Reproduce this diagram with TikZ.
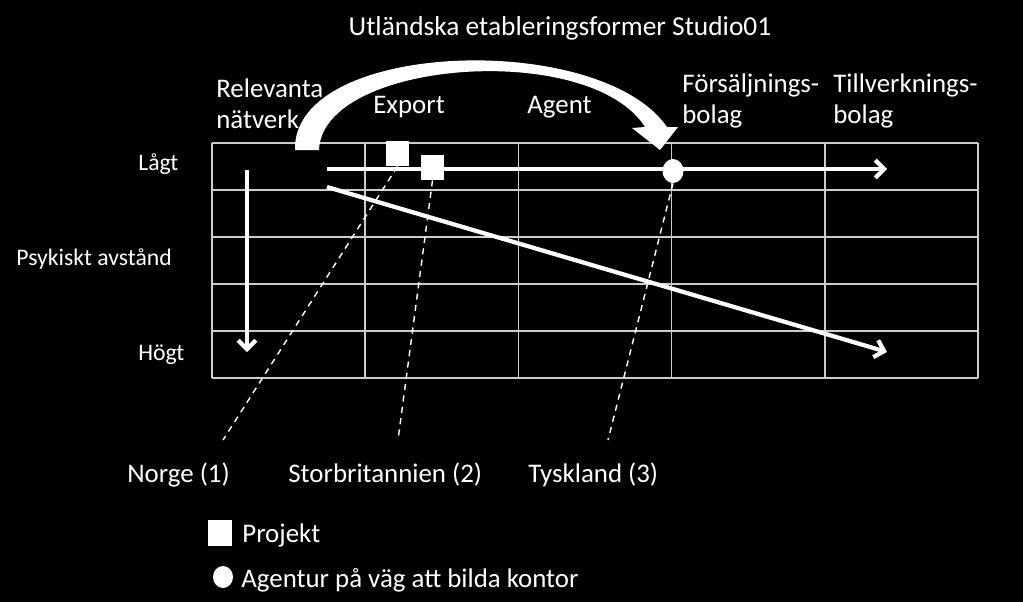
\documentclass[tikz,border=0pt]{standalone}
\usepackage{fontspec}
\setmainfont{Carlito}
\usetikzlibrary{arrows.meta,shapes.geometric}
\begin{document}
\begin{tikzpicture}[x=0.02cm,y=-0.02cm,
  lbl/.style={text=white,inner sep=0pt,font=\fontsize{15.3pt}{17.6pt}\selectfont},
  small/.style={text=white,inner sep=0pt,font=\fontsize{13.5pt}{16pt}\selectfont},
  track/.style={draw=white,line width=2.4pt,-{Straight Barb[length=5pt,width=10pt]}},
  guide/.style={draw=white,line width=0.8pt,dash pattern=on 3.5pt off 3pt},
  box/.style={fill=white,inner sep=0pt,minimum width=0.46cm,minimum height=0.5cm},
  dot/.style={ellipse,fill=white,inner sep=0pt,minimum width=0.42cm,minimum height=0.48cm}]
\fill[black] (0,0) rectangle (1023,602);
% grid
\foreach \x in {212,365.2,518.4,671.6,824.8,978}
  \draw[white!80!black,line width=1pt] (\x,143) -- (\x,378);
\foreach \y in {143,190,237,284,331,378}
  \draw[white!80!black,line width=1pt] (212,\y) -- (978,\y);
% headings
\node[lbl,anchor=base,font=\fontsize{15.6pt}{18pt}\selectfont] (title) at (560,35) {Utländska etableringsformer Studio01};
\node[lbl,anchor=base west,align=left] (network) at (216,128) {Relevanta\\nätverk};
\node[lbl,anchor=base west] (export) at (373,113) {Export};
\node[lbl,anchor=base west] (agent) at (527,113) {Agent};
\node[lbl,anchor=base west,align=left] (sales) at (682,123) {Försäljnings-\\bolag};
\node[lbl,anchor=base west,align=left] (factory) at (833,123) {Tillverknings-\\bolag};
\node[small,anchor=base west] (low) at (138,170) {Lågt};
\node[small,anchor=base west] (dist) at (16,265) {Psykiskt avstånd};
\node[small,anchor=base west] (high) at (138,360) {Högt};
% big curved arrow
\fill[white] (295,150) .. controls (292,40) and (600,30) .. (667,127) -- (678,127)
  -- (660,150) -- (632,128) -- (645,127) .. controls (590,40) and (322,60) .. (319,150) -- cycle;
% arrows
\coordinate (topstart) at (327,169);
\coordinate (topend) at (887,169);
\coordinate (diagstart) at (327,187);
\coordinate (diagend) at (887,352);
\coordinate (vstart) at (247,170);
\coordinate (vend) at (247,352);
\draw[track] (topstart) -- (topend);
\draw[track] (diagstart) -- (diagend);
\draw[track] (vstart) -- (vend);
% markers
\node[box] (uk1) at (397.5,153.5) {};
\node[box] (uk2) at (432.5,167.5) {};
\node[dot] (de) at (673,171) {};
% countries
\node[lbl,anchor=base west] (norway) at (127,482) {Norge (1)};
\node[lbl,anchor=base west] (britain) at (288,482) {Storbritannien (2)};
\node[lbl,anchor=base west] (germany) at (528,482) {Tyskland (3)};
\coordinate (noend) at (223,440);
\coordinate (gbend) at (398,440);
\coordinate (deend) at (608,440);
\draw[guide] (uk1.south) -- (noend);
\draw[guide] (uk2.south) -- (gbend);
\draw[guide] (de.south) -- (deend);
% legend
\node[box,minimum width=0.48cm,minimum height=0.52cm] (keybox) at (220,533) {};
\node[lbl,anchor=base west] (keyproj) at (242,542) {Projekt};
\node[dot,minimum width=0.4cm,minimum height=0.44cm] (keydot) at (223,577) {};
\node[lbl,anchor=base west] (keyagent) at (241,587) {Agentur på väg att bilda kontor};
\end{tikzpicture}
\end{document}
